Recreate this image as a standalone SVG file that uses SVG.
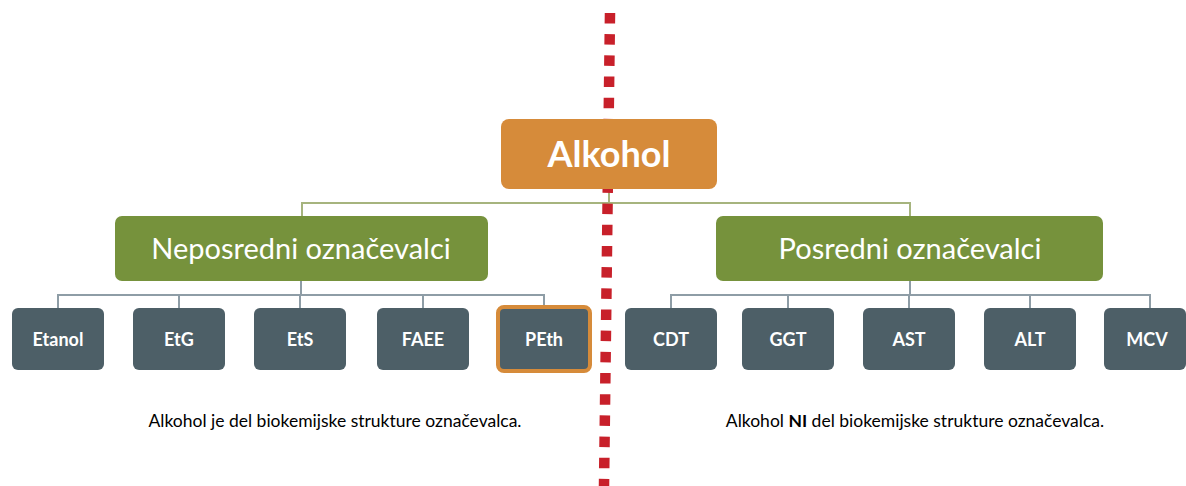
<svg xmlns="http://www.w3.org/2000/svg" width="1186" height="486" viewBox="0 0 1186 486">
<style>
.root{fill:#D68B3A}
.mid{fill:#76923C}
.leaf{fill:#4D5F67}
.t{font-family:Lato,"Liberation Sans",sans-serif;fill:#fff;text-anchor:middle}
.big{font-size:36px;font-weight:bold}
.med{font-size:29px}
.sm{font-size:18px;font-weight:bold}
.cap{font-family:Lato,"Liberation Sans",sans-serif;font-size:17.5px;fill:#000;text-anchor:middle}
.c1{fill:none;stroke:#A6B47E;stroke-width:2}
.c2{fill:none;stroke:#8E9DA6;stroke-width:2}
</style>
<rect width="1186" height="486" fill="#fff"/>
<g id="connectors">
<path class="c1" d="M609 189V203M302 216V203H910V216"/>
<path class="c2" d="M301 281V295M58 308V295H544V308M179 295V308M300 295V308M423 295V308"/>
<path class="c2" d="M910 281V295M671 308V295H1150V308M788 295V308M909 295V308M1030 295V308"/>
</g>
<path id="divider" d="M610 13L604 486" stroke="#C8202A" stroke-width="10.5" stroke-dasharray="10.5 10.68" fill="none"/>
<g id="alkohol"><rect class="root" x="501" y="119" width="216" height="70" rx="8"/><text class="t big" x="609" y="167">Alkohol</text></g>
<g id="neposredni"><rect class="mid" x="115" y="216" width="373" height="65" rx="7"/><text class="t med" x="301" y="259">Neposredni označevalci</text></g>
<g id="posredni"><rect class="mid" x="716" y="216" width="387" height="65" rx="7"/><text class="t med" x="910" y="259">Posredni označevalci</text></g>
<g id="etanol"><rect class="leaf" x="12" y="308" width="92" height="62" rx="6"/><text class="t sm" x="58" y="346">Etanol</text></g>
<g id="etg"><rect class="leaf" x="133" y="308" width="92" height="62" rx="6"/><text class="t sm" x="179" y="346">EtG</text></g>
<g id="ets"><rect class="leaf" x="254" y="308" width="92" height="62" rx="6"/><text class="t sm" x="300" y="346">EtS</text></g>
<g id="faee"><rect class="leaf" x="377" y="308" width="92" height="62" rx="6"/><text class="t sm" x="423" y="346">FAEE</text></g>
<g id="peth"><rect class="leaf" x="498" y="307" width="92" height="64" rx="6" stroke="#D68B3A" stroke-width="4"/><text class="t sm" x="544" y="346">PEth</text></g>
<g id="cdt"><rect class="leaf" x="625" y="308" width="92" height="62" rx="6"/><text class="t sm" x="671" y="346">CDT</text></g>
<g id="ggt"><rect class="leaf" x="742" y="308" width="92" height="62" rx="6"/><text class="t sm" x="788" y="346">GGT</text></g>
<g id="ast"><rect class="leaf" x="863" y="308" width="92" height="62" rx="6"/><text class="t sm" x="909" y="346">AST</text></g>
<g id="alt"><rect class="leaf" x="984" y="308" width="92" height="62" rx="6"/><text class="t sm" x="1030" y="346">ALT</text></g>
<g id="mcv"><rect class="leaf" x="1104" y="308" width="82" height="62" rx="6"/><text class="t sm" x="1147" y="346">MCV</text></g>
<text class="cap" x="335" y="427">Alkohol je del biokemijske strukture označevalca.</text>
<text class="cap" x="915" y="427">Alkohol <tspan font-weight="bold">NI</tspan> del biokemijske strukture označevalca.</text>
</svg>
